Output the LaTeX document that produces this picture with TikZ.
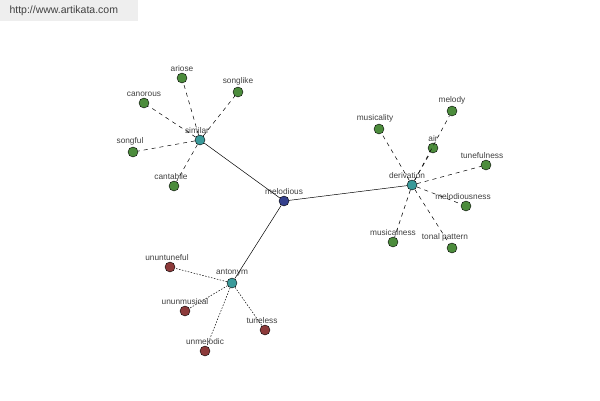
\documentclass[tikz,border=0pt]{standalone}
\usepackage{fontspec}
\setsansfont{Liberation Sans}
\usepackage{tikz}
\usetikzlibrary{positioning}
\definecolor{HubNavy}{HTML}{34408C}
\definecolor{HubTeal}{HTML}{3A9A9A}
\definecolor{LeafGreen}{HTML}{4C8C3C}
\definecolor{LeafRed}{HTML}{8C3A3A}
\definecolor{TextGray}{HTML}{404040}
\definecolor{MarkGray}{HTML}{EEEEEE}

\begin{document}
\begin{tikzpicture}[x=1pt, y=-1pt, font=\sffamily\fontsize{8.3}{9}\selectfont,
    dot/.style={circle, draw=black, line width=0.4pt, minimum size=10pt, inner sep=0pt},
    root/.style={dot, fill=HubNavy},
    hub/.style={dot, fill=HubTeal},
    leaf/.style={dot, fill=LeafGreen},
    antileaf/.style={dot, fill=LeafRed},
    every label/.style={text=TextGray, inner sep=1.2pt},
    tie/.style={draw=black, line width=0.5pt},
    syn/.style={draw=black, line width=0.5pt, dash pattern=on 4pt off 4pt},
    ant/.style={draw=black, line width=0.5pt, dash pattern=on 1.5pt off 1.5pt}]
          \useasboundingbox (0,0) rectangle (600,400);

          % Watermark
          \fill[MarkGray] (0,0) rectangle (138,21);
          \node[anchor=west, text=TextGray, font=\sffamily\fontsize{10.5}{12}\selectfont] (mark) at (6,11) {http://www.artikata.com};

          % Hubs
          \node[root, label=above:melodious] (melodious) at (284,201) {};
          \node[hub, label={[xshift=-3pt]above:similar}] (similar) at (200,140) {};
          \node[hub, label={[xshift=-5pt]above:derivation}] (derivation) at (412,185) {};
          \node[hub, label=above:antonym] (antonym) at (232,283) {};

          % Similar words
          \node[leaf, label=above:ariose] (ariose) at (182,78) {};
          \node[leaf, label=above:songlike] (songlike) at (238,92) {};
          \node[leaf, label=above:canorous] (canorous) at (144,103) {};
          \node[leaf, label={[xshift=-3pt]above:songful}] (songful) at (133,152) {};
          \node[leaf, label={[xshift=-3pt]above:cantabile}] (cantabile) at (174,186) {};

          % Derived words
          \node[leaf, label=above:melody] (melody) at (452,111) {};
          \node[leaf, label={[xshift=-4pt]above:musicality}] (musicality) at (379,129) {};
          \node[leaf, label=above:air] (air) at (433,148) {};
          \node[leaf, label={[xshift=-4pt]above:tunefulness}] (tunefulness) at (486,165) {};
          \node[leaf, label={[xshift=-3pt]above:melodiousness}] (melodiousness) at (466,206) {};
          \node[leaf, label=above:musicalness] (musicalness) at (393,242) {};
          \node[leaf, label={[xshift=-7pt]above:tonal pattern}] (tonalpattern) at (452,248) {};

          % Antonyms
          \node[antileaf, label={[xshift=-3pt]above:ununtuneful}] (ununtuneful) at (170,267) {};
          \node[antileaf, label=above:ununmusical] (ununmusical) at (185,311) {};
          \node[antileaf, label={[xshift=-3pt]above:tuneless}] (tuneless) at (265,330) {};
          \node[antileaf, label=above:unmelodic] (unmelodic) at (205,351) {};

          % Links
          \path[tie] (melodious) -- (similar);
          \path[tie] (melodious) -- (derivation);
          \path[tie] (melodious) -- (antonym);
          \foreach \w in {ariose, songlike, canorous, songful, cantabile}
            \path[syn] (similar) -- (\w);
          \foreach \w in {melody, musicality, air, tunefulness, melodiousness, musicalness, tonalpattern}
            \path[syn] (derivation) -- (\w);
          \foreach \w in {ununtuneful, ununmusical, tuneless, unmelodic}
            \path[ant] (antonym) -- (\w);
        \end{tikzpicture}
\end{document}
